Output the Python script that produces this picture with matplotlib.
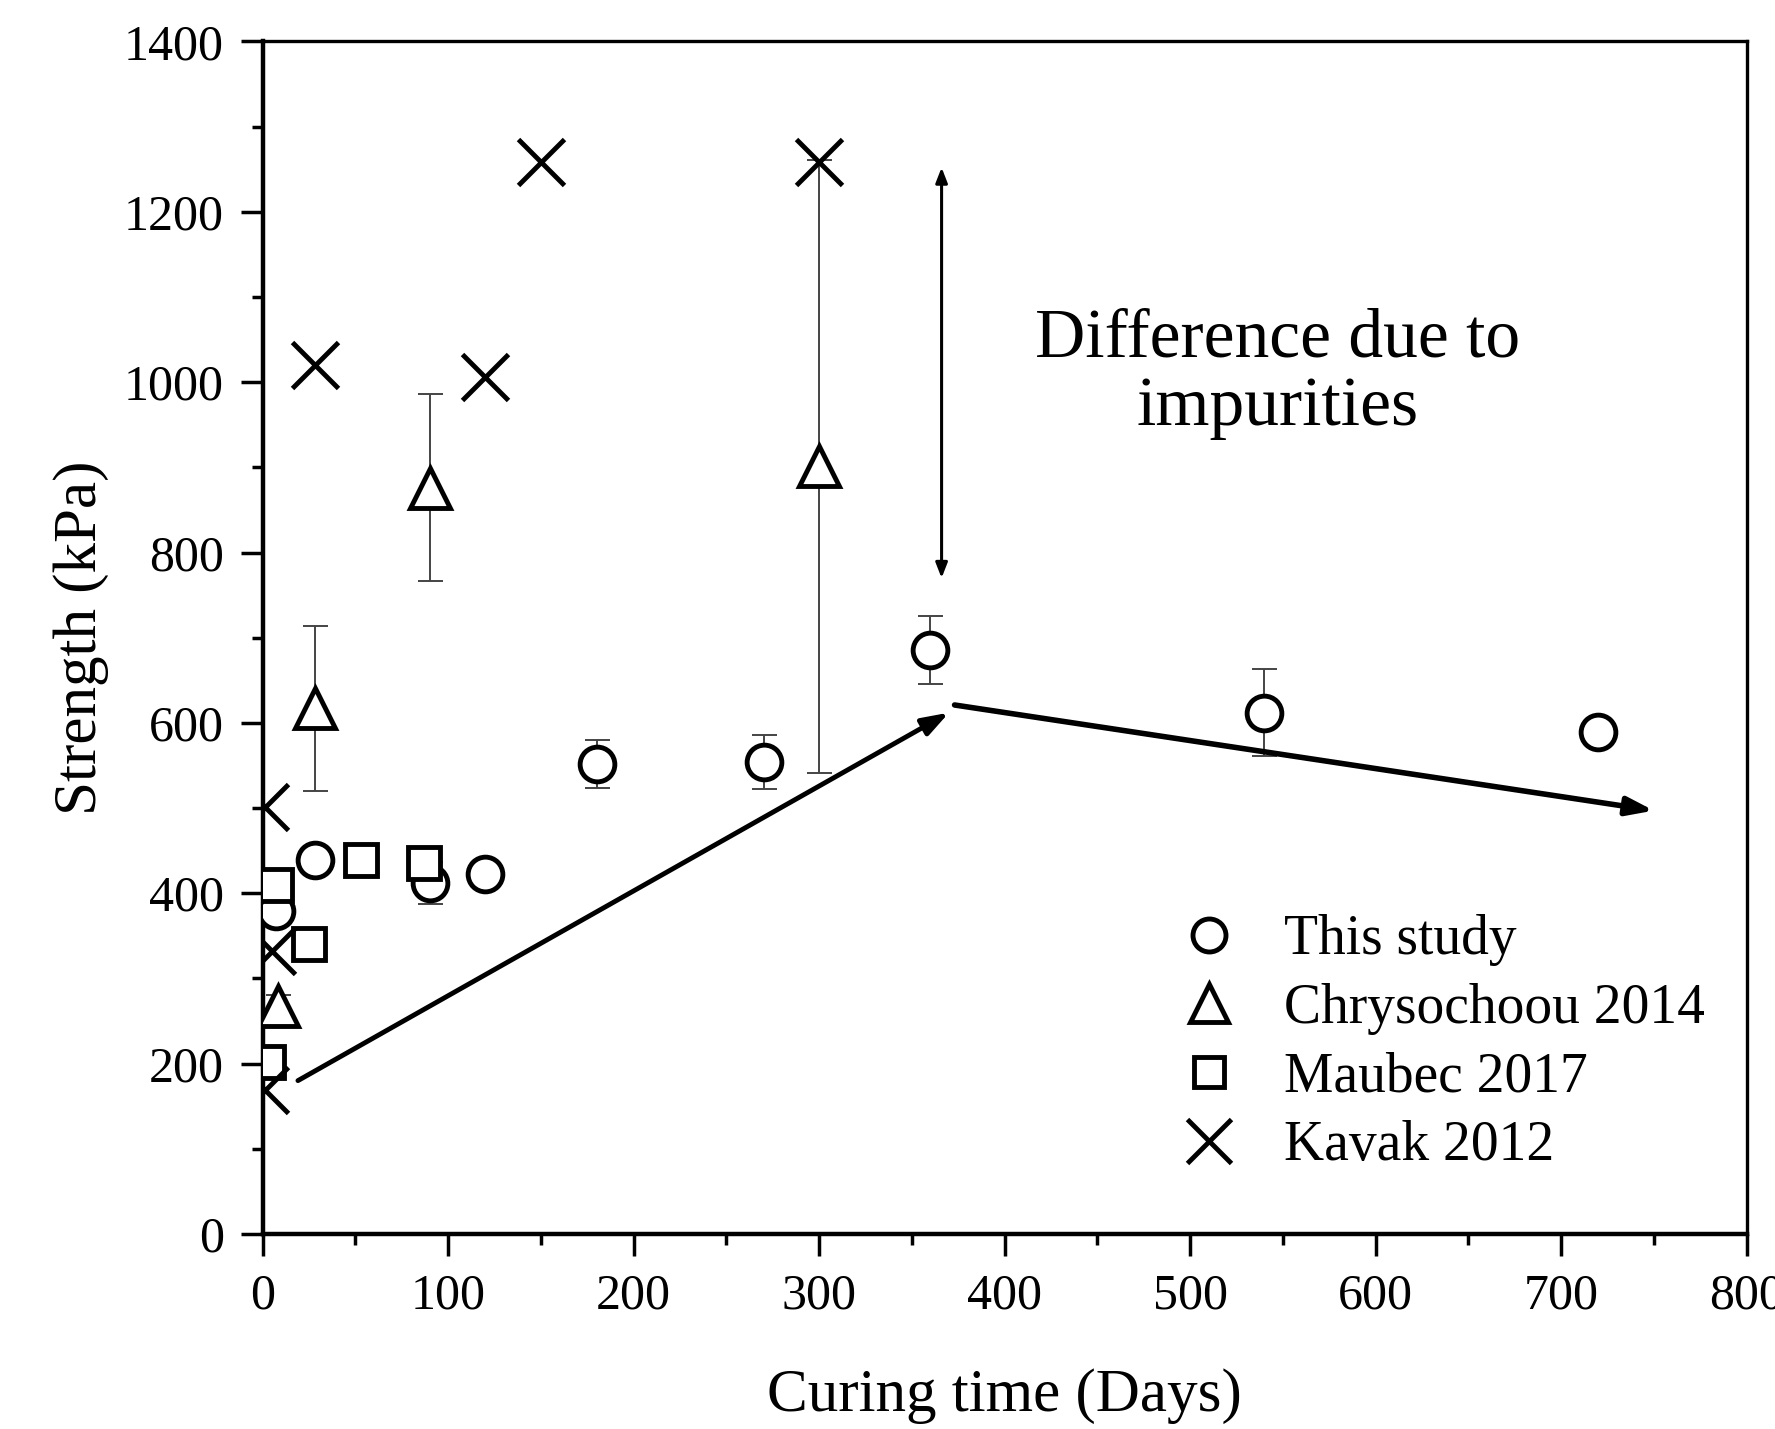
import numpy as np
import matplotlib.pyplot as plt

plt.rcParams['font.family'] = ['Liberation Serif', 'DejaVu Serif']

# This study (circles)
study_x = [7, 28, 90, 120, 180, 270, 360, 540, 720]
study_y = [379, 439, 412, 423, 552, 554, 686, 612, 589]
study_err = [10, 14, 25, 13, 28, 32, 40, 51, 6]

# Chrysochoou 2014 (triangles)
chry_x = [8, 28, 90, 300]
chry_y = [268, 617, 876, 901]
chry_err = [12, 97, 110, 360]

# Maubec 2017 (squares)
maub_x = [3, 7, 25, 53, 87]
maub_y = [202, 410, 340, 439, 435]
maub_err = [0, 12, 0, 0, 10]

# Kavak 2012 (crosses)
kav_x = [1, 5, 1, 28, 120, 150, 300]
kav_y = [501, 332, 169, 1020, 1006, 1258, 1259]

# trend arrows (data coords)
rise_start, rise_end = (19, 180), (370, 612)
fall_start, fall_end = (373, 621), (750, 497)
diff_x, diff_lo, diff_hi = 366, 770, 1252

fig = plt.figure(figsize=(17.75, 14.29), dpi=100)
ax = fig.add_axes([0.148, 0.1365, 0.836, 0.8345])

ms = 25
mew = 3.5
ekw = dict(fmt='none', ecolor='#444444', elinewidth=1.4, capsize=9, capthick=1.4, zorder=2)

ax.errorbar(study_x, study_y, yerr=study_err, **ekw)
ax.errorbar(chry_x, chry_y, yerr=chry_err, **ekw)
ax.errorbar(maub_x, maub_y, yerr=maub_err, **ekw)

ax.plot(study_x, study_y, 'o', ms=ms, mfc='white', mec='black', mew=mew,
        ls='none', label='This study', zorder=3)
ax.plot(chry_x, chry_y, '^', ms=ms + 4, mfc='white', mec='black', mew=mew,
        ls='none', label='Chrysochoou 2014', zorder=3)
ax.plot(maub_x, maub_y, 's', ms=ms - 2, mfc='white', mec='black', mew=mew,
        ls='none', label='Maubec 2017', zorder=3)
ax.plot(kav_x, kav_y, 'x', ms=ms + 8, mec='black', mew=mew,
        ls='none', label='Kavak 2012', zorder=3)

ax.annotate('', xy=rise_end, xytext=rise_start,
            arrowprops=dict(arrowstyle='-|>,head_length=1.6,head_width=0.55',
                            lw=3.5, color='black', shrinkA=0, shrinkB=0))
ax.annotate('', xy=fall_end, xytext=fall_start,
            arrowprops=dict(arrowstyle='-|>,head_length=1.6,head_width=0.55',
                            lw=4, color='black', shrinkA=0, shrinkB=0))
ax.annotate('', xy=(diff_x, diff_hi), xytext=(diff_x, diff_lo),
            arrowprops=dict(arrowstyle='<|-|>,head_length=0.9,head_width=0.35',
                            lw=2.2, color='black', shrinkA=0, shrinkB=0))
ax.text(547, 1010, 'Difference due to\nimpurities', ha='center', va='center',
        fontsize=50, linespacing=1.1)

ax.set_xlim(0, 800)
ax.set_ylim(0, 1400)
ax.set_xticks(np.arange(0, 801, 100))
ax.set_xticks(np.arange(50, 800, 100), minor=True)
ax.set_yticks(np.arange(0, 1401, 200))
ax.set_yticks(np.arange(100, 1400, 200), minor=True)
ax.tick_params(which='major', direction='out', length=16, width=2.5, labelsize=36, pad=12)
ax.tick_params(which='minor', direction='out', length=8, width=2.5)
ax.tick_params(top=False, right=False)

for side in ['left', 'bottom']:
    ax.spines[side].set_linewidth(3.2)
for side in ['top', 'right']:
    ax.spines[side].set_linewidth(2.4)

ax.set_xlabel('Curing time (Days)', fontsize=44, labelpad=35)
ax.set_ylabel('Strength (kPa)', fontsize=44, labelpad=11)

ax.legend(loc='upper left', bbox_to_anchor=(0.576, 0.31), frameon=False,
          fontsize=40, handletextpad=0.6, labelspacing=0.3, markerscale=0.95,
          handlelength=1.5)

fig.savefig('out.png', dpi=100)
